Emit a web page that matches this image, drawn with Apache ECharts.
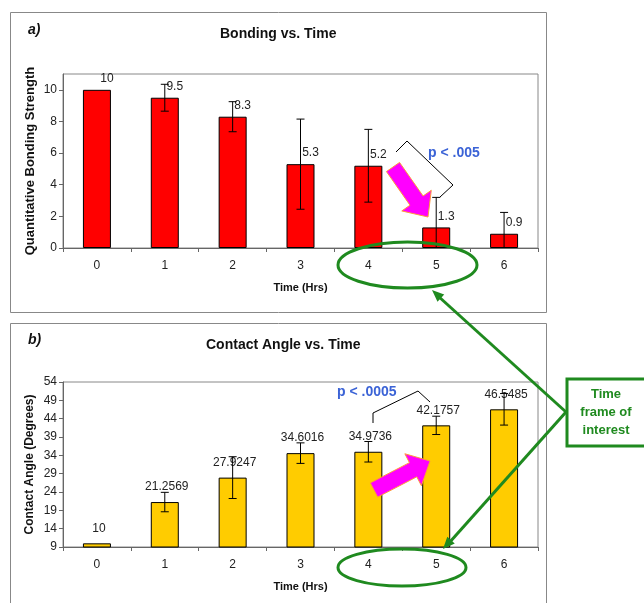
<!DOCTYPE html>
<html>
<head>
<meta charset="utf-8">
<script src="https://cdn.jsdelivr.net/npm/echarts@6/dist/echarts.min.js"></script>
<style>
html,body{margin:0;padding:0;background:#fff;}
#chart{width:644px;height:603px;}
</style>
</head>
<body>
<div id="chart"></div>
<script>
// ---- data ----
const categories = ['0', '1', '2', '3', '4', '5', '6'];
const bondValues = [10, 9.5, 8.3, 5.3, 5.2, 1.3, 0.9];
const bondErrors = [0, 0.85, 0.95, 2.85, 2.3, 1.9, 1.35];
const angleValues = [10, 21.2569, 27.9247, 34.6016, 34.9736, 42.1757, 46.5485];
const angleErrors = [0, 2.65, 5.7, 2.8, 2.8, 2.5, 4.3];
const bondTicks = [0, 2, 4, 6, 8, 10];
const angleTicks = [9, 14, 19, 24, 29, 34, 39, 44, 49, 54];

const FONT = '"Liberation Sans", Arial, sans-serif';
const GREEN = '#1f8a1f';
const BLUE = '#3b63d6';

function errData(vals, errs) {
  return vals.map((v, i) => [i, v - errs[i], v + errs[i]]);
}

function errRenderer(axisMin) {
  return function (params, api) {
    const x = api.value(0);
    let lo = api.value(1);
    const hi = api.value(2);
    if (hi - lo < 1e-9) return null;
    const clipped = lo < axisMin;
    if (clipped) lo = axisMin;
    const pTop = api.coord([x, hi]);
    const pBot = api.coord([x, lo]);
    const cap = 4;
    const st = { stroke: '#000', lineWidth: 1 };
    const children = [
      { type: 'line', shape: { x1: pTop[0], y1: pTop[1], x2: pBot[0], y2: pBot[1] }, style: st },
      { type: 'line', shape: { x1: pTop[0] - cap, y1: pTop[1], x2: pTop[0] + cap, y2: pTop[1] }, style: st }
    ];
    if (!clipped) {
      children.push({ type: 'line', shape: { x1: pBot[0] - cap, y1: pBot[1], x2: pBot[0] + cap, y2: pBot[1] }, style: st });
    }
    return { type: 'group', children: children };
  };
}

// block arrow polygon from tail to tip
function blockArrow(tail, tip, shaftW, headW, headL) {
  const dx = tip[0] - tail[0], dy = tip[1] - tail[1];
  const L = Math.sqrt(dx * dx + dy * dy);
  const ux = dx / L, uy = dy / L;
  const nx = -uy, ny = ux;
  const bx = tip[0] - ux * headL, by = tip[1] - uy * headL;
  const s = shaftW / 2, h = headW / 2;
  return [
    [tail[0] + nx * s, tail[1] + ny * s],
    [bx + nx * s, by + ny * s],
    [bx + nx * h, by + ny * h],
    [tip[0], tip[1]],
    [bx - nx * h, by - ny * h],
    [bx - nx * s, by - ny * s],
    [tail[0] - nx * s, tail[1] - ny * s]
  ];
}
function arrowHead(from, tip, len, w) {
  const dx = tip[0] - from[0], dy = tip[1] - from[1];
  const L = Math.sqrt(dx * dx + dy * dy);
  const ux = dx / L, uy = dy / L;
  const nx = -uy, ny = ux;
  const bx = tip[0] - ux * len, by = tip[1] - uy * len;
  return [[tip[0], tip[1]], [bx + nx * w / 2, by + ny * w / 2], [bx - nx * w / 2, by - ny * w / 2]];
}

const chart = echarts.init(document.getElementById('chart'), null, { renderer: 'canvas' });

const axisLabelStyle = { color: '#222', fontSize: 12, fontFamily: FONT };
const nameStyle = { color: '#111', fontSize: 11, fontWeight: 'bold', fontFamily: FONT };

function xAxisDef(gi) {
  return {
    type: 'category', gridIndex: gi, data: categories, boundaryGap: true,
    axisLine: { lineStyle: { color: '#666', width: 1 } },
    axisTick: { show: true, length: 4, inside: false, lineStyle: { color: '#666' } },
    axisLabel: Object.assign({ margin: 12 }, axisLabelStyle),
    name: 'Time (Hrs)', nameLocation: 'middle', nameGap: 34, nameMoveOverlap: false, nameTextStyle: nameStyle
  };
}

const arrowTop = blockArrow([393, 167], [428, 217], 16, 36, 20);
const arrowBot = blockArrow([374, 490], [430, 461], 16, 36, 19);
const lineStart = [566, 412];
const tipA = [432, 290];
const tipB = [443, 549];

const option = {
  backgroundColor: '#fff',
  animation: false,
  title: [
    { text: 'Bonding vs. Time', left: 215, top: 22,
      textStyle: { fontSize: 14, fontWeight: 'bold', color: '#111', fontFamily: FONT } },
    { text: 'Contact Angle vs. Time', left: 201, top: 333,
      textStyle: { fontSize: 14, fontWeight: 'bold', color: '#111', fontFamily: FONT } }
  ],
  grid: [
    { left: 63, top: 74, width: 475, height: 174, show: true, borderColor: '#888', borderWidth: 1, backgroundColor: 'transparent' },
    { left: 63, top: 382, width: 475, height: 165, show: true, borderColor: '#888', borderWidth: 1, backgroundColor: 'transparent' }
  ],
  xAxis: [xAxisDef(0), xAxisDef(1)],
  yAxis: [
    {
      type: 'value', gridIndex: 0, min: 0, max: 11,
      splitLine: { show: false },
      axisLine: { show: true, lineStyle: { color: '#666' } },
      axisTick: { show: true, length: 4, customValues: bondTicks, lineStyle: { color: '#666' } },
      axisLabel: Object.assign({ margin: 6, customValues: bondTicks }, axisLabelStyle),
      name: 'Quantitative Bonding Strength', nameLocation: 'middle', nameGap: 26, nameMoveOverlap: false,
      nameTextStyle: Object.assign({}, nameStyle, { fontSize: 13 })
    },
    {
      type: 'value', gridIndex: 1, min: 9, max: 54,
      splitLine: { show: false },
      axisLine: { show: true, lineStyle: { color: '#666' } },
      axisTick: { show: true, length: 4, customValues: angleTicks, lineStyle: { color: '#666' } },
      axisLabel: Object.assign({ margin: 6, customValues: angleTicks }, axisLabelStyle),
      name: 'Contact Angle (Degrees)', nameLocation: 'middle', nameGap: 27, nameMoveOverlap: false,
      nameTextStyle: Object.assign({}, nameStyle, { fontSize: 12 })
    }
  ],
  series: [
    {
      type: 'bar', xAxisIndex: 0, yAxisIndex: 0, data: bondValues, barWidth: 28,
      itemStyle: { color: '#ff0000', borderColor: '#000', borderWidth: 1 },
      label: { show: true, position: 'top', distance: 5, offset: [10, 0], color: '#222', fontSize: 12, fontFamily: FONT }
    },
    {
      type: 'custom', xAxisIndex: 0, yAxisIndex: 0, data: errData(bondValues, bondErrors),
      renderItem: errRenderer(0), encode: { x: 0, y: [1, 2] }, z: 5
    },
    {
      type: 'bar', xAxisIndex: 1, yAxisIndex: 1, data: angleValues, barWidth: 28,
      itemStyle: { color: '#ffcc00', borderColor: '#000', borderWidth: 1 },
      label: { show: true, position: 'top', distance: 9, offset: [2, 0], color: '#222', fontSize: 12, fontFamily: FONT }
    },
    {
      type: 'custom', xAxisIndex: 1, yAxisIndex: 1, data: errData(angleValues, angleErrors),
      renderItem: errRenderer(9), encode: { x: 0, y: [1, 2] }, z: 5
    }
  ],
  graphic: [
    { type: 'rect', shape: { x: 10.5, y: 12.5, width: 536, height: 300 }, style: { fill: 'none', stroke: '#888', lineWidth: 1 }, z: -10 },
    { type: 'rect', shape: { x: 10.5, y: 323.5, width: 536, height: 300 }, style: { fill: 'none', stroke: '#888', lineWidth: 1 }, z: -10 },
    { type: 'text', x: 28, y: 23, style: { text: 'a)', font: 'italic bold 14px ' + FONT, fill: '#111' }, z: 100 },
    { type: 'text', x: 28, y: 333, style: { text: 'b)', font: 'italic bold 14px ' + FONT, fill: '#111' }, z: 100 },
    // magenta arrows
    { type: 'polygon', shape: { points: arrowTop }, style: { fill: '#ff00ff', stroke: '#ff9a3c', lineWidth: 1 }, z: 100 },
    { type: 'polygon', shape: { points: arrowBot }, style: { fill: '#ff00ff', stroke: '#ff9a3c', lineWidth: 1 }, z: 100 },
    // brackets
    { type: 'polyline', shape: { points: [[396, 152], [407, 141], [453, 185], [440, 197]] }, style: { fill: 'none', stroke: '#000', lineWidth: 1 }, z: 100 },
    { type: 'polyline', shape: { points: [[373, 423], [373, 413], [418, 391], [430, 402]] }, style: { fill: 'none', stroke: '#000', lineWidth: 1 }, z: 100 },
    { type: 'text', x: 428, y: 146, style: { text: 'p < .005', font: 'bold 14px ' + FONT, fill: BLUE }, z: 100 },
    { type: 'text', x: 337, y: 385, style: { text: 'p < .0005', font: 'bold 14px ' + FONT, fill: BLUE }, z: 100 },
    // green ellipses
    { type: 'ellipse', shape: { cx: 407.5, cy: 265, rx: 69.5, ry: 23 }, style: { fill: 'none', stroke: GREEN, lineWidth: 3 }, z: 100 },
    { type: 'ellipse', shape: { cx: 402, cy: 567.5, rx: 64, ry: 18.5 }, style: { fill: 'none', stroke: GREEN, lineWidth: 3 }, z: 100 },
    // green box
    { type: 'rect', shape: { x: 567, y: 379, width: 80, height: 67 }, style: { fill: '#fff', stroke: GREEN, lineWidth: 3 }, z: 100 },
    { type: 'text', x: 606, y: 412, style: { text: 'Time\nframe of\ninterest', font: 'bold 13px ' + FONT, fill: GREEN, align: 'center', verticalAlign: 'middle', lineHeight: 18 }, z: 101 },
    // green connector lines
    { type: 'line', shape: { x1: lineStart[0], y1: lineStart[1], x2: tipA[0] + 6, y2: tipA[1] + 6 }, style: { stroke: GREEN, lineWidth: 3 }, z: 99 },
    { type: 'line', shape: { x1: lineStart[0], y1: lineStart[1], x2: tipB[0] + 6, y2: tipB[1] - 6 }, style: { stroke: GREEN, lineWidth: 3 }, z: 99 },
    { type: 'polygon', shape: { points: arrowHead(lineStart, tipA, 12, 10) }, style: { fill: GREEN }, z: 100 },
    { type: 'polygon', shape: { points: arrowHead(lineStart, tipB, 12, 10) }, style: { fill: GREEN }, z: 100 }
  ]
};
chart.setOption(option);
</script>
</body>
</html>
